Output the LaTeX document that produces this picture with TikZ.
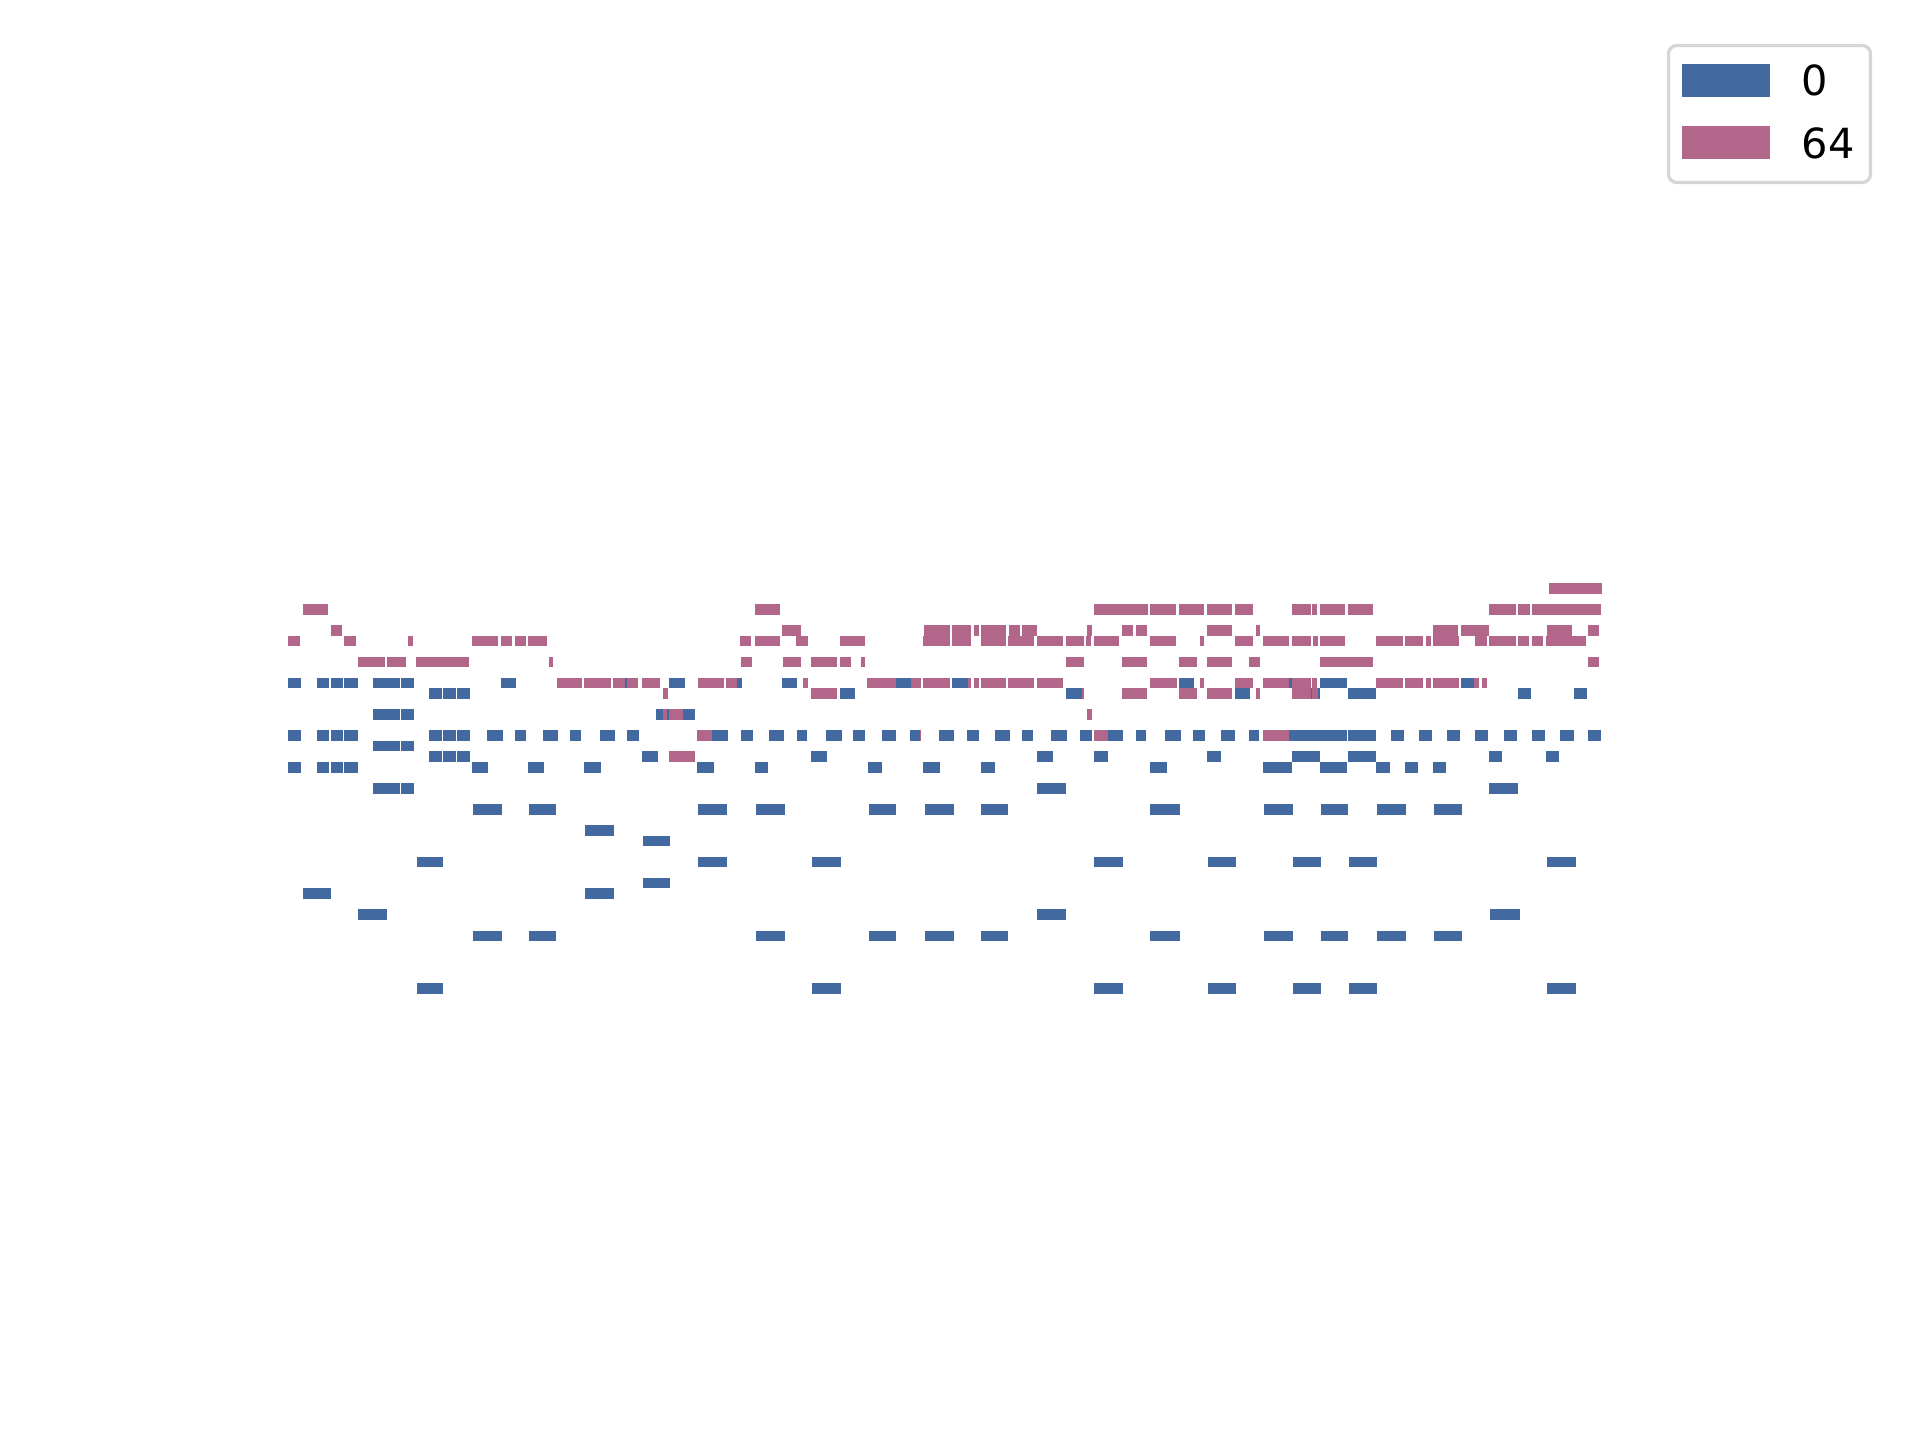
\documentclass[tikz,border=0pt]{standalone}
\usepackage{fontspec}
\setmainfont{DejaVu Sans}
\usepackage{tikz}
\definecolor{track0}{RGB}{66,106,161}
\definecolor{track64}{RGB}{178,102,137}
\definecolor{legendframe}{RGB}{214,214,214}

\begin{document}
\begin{tikzpicture}[x=0.084667mm,y=-0.084667mm]
\tikzstyle{note 0} = [fill=track0]
\tikzstyle{note 64} = [fill=track64]
\tikzstyle{key} = [anchor=base west, inner sep=0pt, font=\fontsize{10}{12}\selectfont]
\useasboundingbox (0,0) rectangle (1920,1440);
% track 0: row / list of onset/offset
\foreach \r/\xs in {
  9/{288/301,317/329,331/343,344/358,373/400,401/414,501/516,625/627,669/685,737/742,782/797,896/911,952/968,1179/1194,1289/1292,1320/1347,1461/1474},
  10/{429/442,443/456,457/470,840/855,1066/1082,1235/1250,1292/1320,1348/1376,1518/1531,1574/1587},
  12/{373/400,401/414,656/669,683/695},
  14/{288/301,317/329,331/343,344/358,429/442,443/456,457/470,487/503,515/526,543/558,570/581,600/615,627/639,712/728,741/753,769/784,797/807,826/842,853/865,882/896,910/920,939/954,967/979,995/1010,1022/1033,1051/1067,1080/1092,1108/1123,1136/1146,1165/1181,1193/1205,1221/1235,1249/1259,1289/1347,1348/1376,1391/1404,1419/1432,1447/1460,1475/1488,1504/1517,1532/1545,1560/1574,1588/1601},
  15/{373/400,401/414},
  16/{429/442,443/456,457/470,642/658,811/827,1037/1053,1094/1108,1207/1221,1292/1320,1348/1376,1489/1502,1546/1559},
  17/{288/301,317/329,331/343,344/358,472/488,528/544,584/601,697/714,755/768,868/882,923/940,981/995,1150/1167,1263/1292,1320/1347,1376/1390,1405/1418,1433/1446},
  19/{373/400,401/414,1037/1066,1489/1518},
  21/{473/502,529/556,698/727,756/785,869/896,925/954,981/1008,1150/1180,1264/1293,1321/1348,1377/1406,1434/1462},
  23/{585/614},
  24/{643/670},
  26/{417/443,698/727,812/841,1094/1123,1208/1236,1293/1321,1349/1377,1547/1576},
  28/{643/670},
  29/{303/331,585/614},
  31/{358/387,1037/1066,1490/1520},
  33/{473/502,529/556,756/785,869/896,925/954,981/1008,1150/1180,1264/1293,1321/1348,1377/1406,1434/1462},
  38/{417/443,812/841,1094/1123,1208/1236,1293/1321,1349/1377,1547/1576}}
  \foreach \a/\b in \xs
    \fill[note 0] (\a,{583+10.53*\r}) rectangle (\b,{583+10.53*(\r+1)});
% track 64
\foreach \r/\xs in {
  0/{1549/1602},
  2/{303/328,755/780,1094/1148,1150/1176,1179/1204,1207/1232,1235/1253,1292/1311,1312/1317,1320/1345,1348/1373,1489/1516,1518/1530,1532/1601},
  4/{331/342,782/801,924/950,952/971,974/979,981/1006,1009/1020,1022/1037,1087/1092,1122/1133,1136/1147,1207/1232,1256/1260,1433/1458,1461/1489,1547/1572,1588/1599},
  5/{288/300,344/356,408/413,472/498,501/512,515/526,528/547,740/751,755/780,796/808,840/865,923/950,952/971,981/1006,1008/1034,1037/1063,1066/1084,1086/1091,1094/1119,1150/1176,1200/1204,1235/1253,1263/1289,1292/1311,1313/1318,1320/1345,1376/1403,1405/1423,1426/1431,1433/1459,1475/1487,1489/1516,1518/1529,1532/1543,1546/1586},
  7/{358/385,387/406,416/469,549/553,741/752,783/801,811/837,840/851,861/865,1066/1084,1122/1147,1179/1197,1207/1232,1249/1260,1320/1373,1588/1599},
  9/{557/582,584/611,613/625,627/638,642/660,698/724,726/737,803/808,867/896,911/921,923/950,968/971,974/979,981/1006,1008/1034,1037/1063,1150/1177,1200/1204,1235/1253,1263/1289,1292/1311,1312/1317,1376/1403,1405/1423,1426/1431,1433/1459,1474/1479,1482/1487},
  10/{663/668,811/837,1082/1084,1122/1147,1179/1197,1207/1232,1256/1260,1292/1311,1312/1318},
  12/{663/667,669/683,1087/1092},
  14/{697/712,920/921,1094/1108,1263/1289},
  16/{669/695}}
  \foreach \a/\b in \xs
    \fill[note 64] (\a,{583+10.53*\r}) rectangle (\b,{583+10.53*(\r+1)});
% legend
\draw[legendframe, line width=0.8pt, rounded corners=2pt, fill=white] (1668.5,45.5) rectangle (1870.5,182.5);
\fill[note 0] (1682,64) rectangle (1770,97);
\fill[note 64] (1682,126) rectangle (1770,159);
\node[key] (key0) at (1801,95.5) {0};
\node[key] (key64) at (1801,158.5) {64};
\end{tikzpicture}
\end{document}
